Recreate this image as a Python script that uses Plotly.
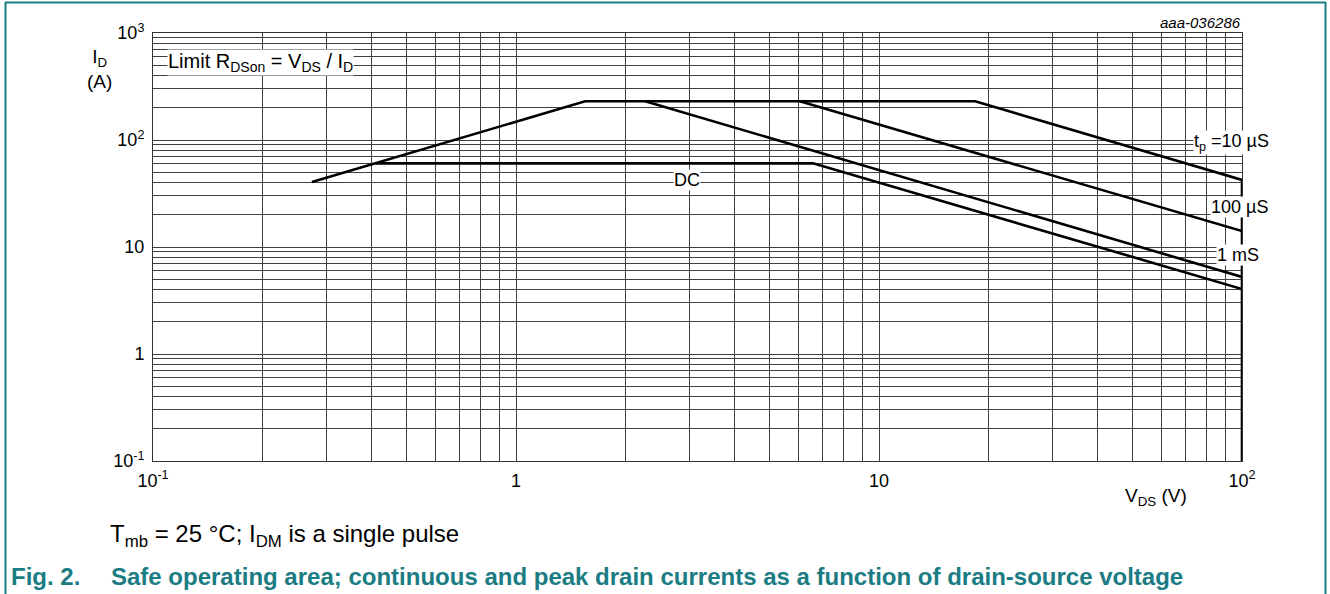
import plotly.graph_objects as go

# Safe operating area curves: drain-source voltage (V) vs drain current (A)
v_10us = [0.274, 1.55, 18.4, 100, 100]
i_10us = [40.5, 230, 230, 42.3, 0.1]

v_100us = [6.05, 100]
i_100us = [230, 14.1]

v_1ms = [2.27, 100]
i_1ms = [230, 5.25]

v_dc = [0.41, 6.58, 100]
i_dc = [60.5, 60.5, 4.05]

x_major = [0.1, 1, 10, 100]
x_major_text = ["10<sup>-1</sup>", "1", "10", "10<sup>2</sup>"]
y_major = [0.1, 1, 10, 100, 1000]
y_major_text = ["10<sup>-1</sup>", "1", "10", "10<sup>2</sup>", "10<sup>3</sup>"]

FONT = "Liberation Sans, Arial, sans-serif"
TEAL = "#1b7c84"

W, H = 1330, 594
L, R, T, B = 153, 1242, 33, 461


def grid_values(lo_exp, hi_exp):
    vals = []
    for e in range(lo_exp, hi_exp):
        for d in range(1, 10):
            vals.append(round(d * 10 ** e, 10))
    vals.append(10 ** hi_exp)
    return vals


def labels_for(vals, majors, texts):
    out = []
    for v in vals:
        match = [t for m, t in zip(majors, texts) if abs(v - m) < 1e-9 * max(1, m)]
        out.append(match[0] if match else "")
    return out


xv = grid_values(-1, 2)
yv = grid_values(-1, 3)

fig = go.Figure()
line = dict(color="black", width=2.6)
for vx, iy in [(v_10us, i_10us), (v_100us, i_100us), (v_1ms, i_1ms), (v_dc, i_dc)]:
    fig.add_trace(go.Scatter(x=vx, y=iy, mode="lines", line=line,
                             showlegend=False, hoverinfo="skip"))


def px(x):
    return (x - L) / (R - L)


def py(y):
    return (B - y) / (B - T)


tick_font = dict(family=FONT, size=18, color="black")

fig.update_xaxes(
    type="log", range=[-1, 2],
    tickmode="array", tickvals=xv, ticktext=labels_for(xv, x_major, x_major_text),
    showgrid=True, gridcolor="#404040", gridwidth=1,
    showline=True, linecolor="#333", linewidth=1, mirror=True,
    ticks="", tickfont=tick_font, zeroline=False, ticklabelstandoff=3,
)
fig.update_yaxes(
    type="log", range=[-1, 3],
    tickmode="array", tickvals=yv, ticktext=labels_for(yv, y_major, y_major_text),
    showgrid=True, gridcolor="#404040", gridwidth=1,
    showline=True, linecolor="#333", linewidth=1, mirror=True,
    ticks="", tickfont=tick_font, zeroline=False, ticklabelstandoff=4,
)


def note(x, y, text, size, xref="paper", yref="paper", xanchor="center",
         color="black", boxed=False, align="center"):
    d = dict(x=x, y=y, xref=xref, yref=yref, xanchor=xanchor, yanchor="middle",
             text=text, align=align, showarrow=False,
             font=dict(family=FONT, size=size, color=color))
    if boxed:
        d.update(bgcolor="white", borderpad=0)
    return d


ann = [
    # in-plot labels (log10 coordinates)
    note(-0.962, 2.72, "Limit R<sub>DSon</sub> = V<sub>DS</sub> / I<sub>D</sub>", 20,
         xref="x", yref="y", xanchor="left", boxed=True),
    note(1.972, 1.981, "t<sub>p</sub> =10 µS", 18, xref="x", yref="y", boxed=True),
    note(1.993, 1.374, "100 µS", 18, xref="x", yref="y", boxed=True),
    note(1.99, 0.925, "1 mS", 18, xref="x", yref="y", boxed=True),
    note(0.471, 1.626, "DC", 18, xref="x", yref="y", boxed=True),
    # axis titles and notes (paper coordinates)
    note(px(99), py(69), "I<sub>D</sub><br>(A)", 19),
    note(px(1156), py(497), "V<sub>DS</sub> (V)", 19),
    note(px(1243), py(22), "<i>aaa-036286</i>", 15, xanchor="right"),
    note(px(108), py(535), "T<sub>mb</sub> = 25 °C; I<sub>DM</sub> is a single pulse", 24,
         xanchor="left"),
    note(px(9), py(576), "<b>Fig. 2.</b>", 24, xanchor="left", color=TEAL),
    note(px(109), py(576),
         "<b>Safe operating area; continuous and peak drain currents as a function of drain-source voltage</b>",
         24, xanchor="left", color=TEAL),
]

# teal frame around the figure
frame = dict(color=TEAL, width=2)
shapes = [
    dict(type="line", xref="paper", yref="paper", x0=px(5), x1=px(1326), y0=py(2.5), y1=py(2.5), line=frame),
    dict(type="line", xref="paper", yref="paper", x0=px(5.5), x1=px(5.5), y0=py(2), y1=py(594), line=frame),
    dict(type="line", xref="paper", yref="paper", x0=px(1325.5), x1=px(1325.5), y0=py(2), y1=py(594), line=frame),
]

fig.update_layout(
    width=W, height=H,
    margin=dict(l=L, r=W - R, t=T, b=H - B),
    plot_bgcolor="white", paper_bgcolor="white",
    annotations=ann, shapes=shapes,
    font=dict(family=FONT),
)

fig.write_html("out.html")
